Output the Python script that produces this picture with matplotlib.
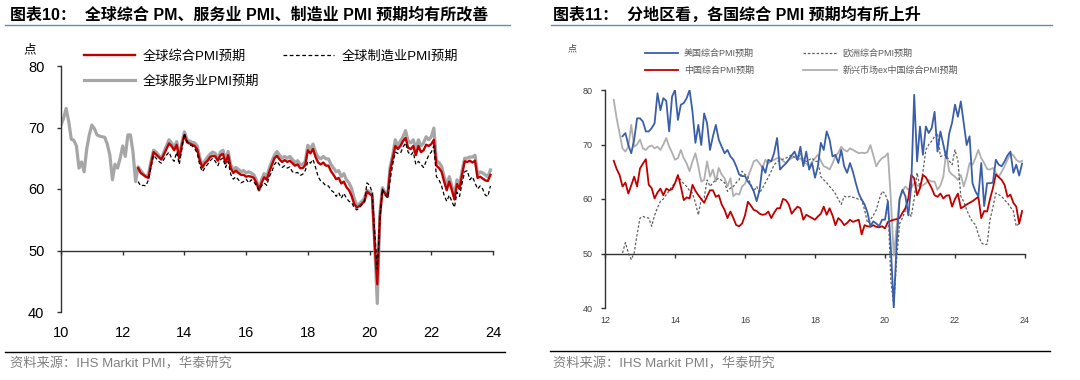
import matplotlib
matplotlib.use("Agg")
import matplotlib.pyplot as plt
import numpy as np

plt.rcParams['font.family'] = ['Liberation Sans', 'Noto Sans CJK SC']
MIX = ['Liberation Sans', 'Noto Sans CJK SC', 'DejaVu Sans']
CJK = ['Noto Sans CJK SC', 'DejaVu Sans']

# ---------------- left chart: global PMI expectations (monthly) ----------------
services_start = 2010.0          # Jan 2010
services = [
    70.4, 71.5, 73.1, 71.0, 68.1, 67.9, 67.0, 63.4, 64.4, 62.8, 66.5, 68.8,  # 2010
    70.4, 69.8, 68.8, 68.6, 68.5, 68.4, 67.3, 65.5, 61.5, 64.0, 63.4, 65.0,  # 2011
    67.0, 65.3, 68.8, 68.8, 66.0, 61.2, 63.6, 63.0, 62.5, 62.0, 62.4, 64.5,  # 2012
    66.3, 66.0, 65.5, 64.9, 66.0, 67.0, 68.0, 67.5, 66.8, 67.7, 65.2, 67.5,  # 2013
    69.3, 68.0, 67.8, 67.6, 67.5, 67.0, 65.0, 63.9, 64.6, 65.2, 65.7, 66.0,  # 2014
    65.8, 65.0, 66.0, 66.3, 64.7, 66.1, 63.9, 63.2, 63.5, 63.2, 62.8, 63.0,  # 2015
    62.6, 62.8, 62.6, 62.3, 61.5, 59.8, 61.5, 62.5, 62.0, 63.4, 64.5, 65.5,  # 2016
    66.1, 65.5, 65.0, 65.3, 65.0, 65.3, 64.8, 64.3, 64.6, 64.0, 64.0, 64.5,  # 2017
    67.1, 66.5, 67.3, 66.0, 65.2, 64.9, 65.3, 64.9, 64.9, 64.0, 63.4, 62.8,  # 2018
    63.0, 62.0, 62.5, 61.5, 61.0, 60.1, 58.5, 57.4, 57.6, 58.0, 58.5, 59.8,  # 2019
    59.5, 59.3, 51.0, 41.4, 56.0, 60.2, 59.5, 58.9, 63.6, 65.5, 68.0, 67.0,  # 2020
    67.8, 68.5, 69.5, 67.8, 67.5, 68.0, 66.5, 68.0, 67.0, 67.5, 68.5, 68.0,  # 2021
    68.5, 69.9, 64.6, 64.3, 63.7, 62.0, 60.5, 62.0, 60.5, 58.8, 61.5, 60.5,  # 2022
    63.0, 65.0, 65.0, 65.2, 65.2, 65.5, 62.3, 62.8, 62.6, 62.3, 62.0, 63.1,  # 2023
]

global_start = 2012.5            # Jul 2012
composite = [
    63.4, 62.6, 62.3, 62.0, 61.8, 64.0,                                      # 2012 H2
    66.0, 65.6, 65.2, 64.8, 65.6, 66.5, 67.4, 67.0, 66.3, 67.2, 65.0, 67.2,  # 2013
    68.8, 67.6, 67.4, 67.2, 67.0, 66.4, 64.6, 63.5, 64.2, 64.6, 65.2, 65.4,  # 2014
    65.3, 64.6, 65.5, 65.7, 64.2, 65.5, 63.4, 62.6, 63.0, 62.6, 62.3, 62.3,  # 2015
    62.0, 62.1, 62.0, 61.8, 61.0, 59.9, 61.0, 61.9, 61.5, 62.8, 63.9, 65.0,  # 2016
    65.4, 64.8, 64.4, 64.7, 64.4, 64.6, 64.2, 63.8, 64.0, 63.4, 63.4, 63.9,  # 2017
    66.3, 65.8, 66.5, 65.2, 64.3, 64.0, 64.3, 63.8, 63.8, 62.9, 62.3, 61.6,  # 2018
    61.8, 60.9, 61.2, 60.3, 59.8, 58.9, 57.6, 57.0, 57.2, 57.6, 58.0, 59.6,  # 2019
    59.2, 58.9, 51.0, 44.5, 55.5, 59.8, 59.3, 58.7, 63.0, 65.0, 67.0, 66.5,  # 2020
    67.0, 67.8, 68.3, 66.7, 66.5, 67.0, 65.5, 67.0, 66.0, 66.3, 67.2, 67.0,  # 2021
    67.3, 68.0, 63.8, 63.4, 62.8, 61.2, 59.8, 61.2, 59.8, 58.3, 60.8, 60.0,  # 2022
    62.4, 64.5, 64.4, 64.6, 64.3, 64.6, 61.8, 62.0, 61.7, 61.4, 61.3, 62.3,  # 2023
]
manufacturing = [
    61.2, 60.5, 60.6, 60.5, 61.5, 63.5,                                      # 2012 H2
    65.5, 65.0, 64.5, 64.2, 64.8, 65.5, 66.0, 65.0, 64.5, 66.0, 64.0, 66.5,  # 2013
    69.0, 67.8, 67.2, 67.0, 66.6, 65.8, 63.8, 62.8, 63.5, 64.0, 64.6, 65.0,  # 2014
    64.5, 63.8, 64.8, 65.0, 63.5, 64.5, 62.4, 61.6, 62.0, 61.5, 61.0, 61.2,  # 2015
    61.6, 61.0, 61.5, 61.2, 60.5, 59.8, 60.5, 61.0, 60.6, 62.0, 62.8, 64.0,  # 2016
    64.5, 63.9, 63.5, 63.8, 63.4, 63.6, 62.8, 62.6, 62.7, 62.2, 62.4, 63.0,  # 2017
    64.5, 64.2, 64.8, 63.5, 62.0, 61.3, 61.0, 60.5, 60.5, 59.8, 59.5, 58.8,  # 2018
    59.4, 58.5, 59.3, 58.5, 58.0, 57.8, 57.0, 56.6, 56.9, 57.4, 58.0, 61.0,  # 2019
    60.6, 59.5, 53.0, 47.0, 55.0, 60.0, 59.0, 58.6, 61.5, 64.0, 66.0, 65.8,  # 2020
    65.8, 66.8, 67.5, 66.0, 65.5, 66.0, 64.0, 64.5, 64.0, 63.5, 64.5, 65.5,  # 2021
    66.0, 67.0, 62.0, 61.5, 60.5, 59.0, 58.0, 59.0, 58.0, 57.0, 59.5, 58.8,  # 2022
    61.0, 62.8, 63.0, 61.5, 62.0, 61.0, 60.0, 60.5, 60.0, 59.0, 58.8, 60.5,  # 2023
]

# ---------------- right chart: composite PMI expectations by region ----------------
region_start_a = 2012.25         # Apr 2012
china = [
    67.0, 65.5, 64.4, 62.3, 63.0, 61.0, 62.5, 64.1, 62.3,                    # 2012
    65.6, 66.5, 67.3, 62.6, 62.0, 60.1, 61.2, 61.9, 60.7, 61.9, 61.6, 61.8,  # 2013
    62.9, 64.4, 62.3, 59.8, 60.3, 60.1, 62.6, 61.5, 60.7, 60.0, 59.3, 60.5,  # 2014
    61.6, 61.6, 60.4, 60.7, 59.0, 58.0, 56.5, 57.7, 56.5, 55.2, 55.0, 55.5,  # 2015
    57.0, 59.5, 58.8, 58.0, 57.8, 57.3, 57.1, 57.2, 57.7, 56.5, 57.5, 58.3,  # 2016
    58.3, 60.0, 59.8, 59.0, 57.3, 58.0, 58.6, 58.3, 56.2, 57.1, 56.8, 56.5,  # 2017
    56.2, 56.8, 57.3, 58.6, 57.1, 58.3, 57.0, 55.2, 56.5, 56.0, 55.2, 55.6,  # 2018
    56.2, 55.8, 56.0, 56.2, 53.5, 55.2, 55.0, 54.9, 55.2, 54.9, 54.8, 55.0,  # 2019
    54.6, 55.8, 56.0, 56.2, 56.3, 56.5, 57.5, 58.3, 60.1, 64.4, 63.8, 60.7,  # 2020
    62.0, 64.4, 64.0, 63.0, 62.0, 60.7, 60.4, 61.0, 60.1, 60.6, 60.7, 58.6,  # 2021
    60.0, 61.0, 58.3, 58.6, 59.0, 59.3, 59.6, 60.0, 60.4, 56.5, 57.8, 57.7,  # 2022
    60.0, 62.0, 64.5, 64.0, 63.5, 62.6, 60.4, 60.8, 59.3, 58.6, 55.5, 57.8,  # 2023
]
em_ex_china = [
    78.2, 74.8, 72.1, 69.3, 68.7, 69.6, 73.6, 69.6, 70.0,                    # 2012
    70.9, 69.3, 69.0, 69.6, 69.8, 69.3, 69.6, 69.0, 70.0, 71.2, 69.6, 68.5,  # 2013
    67.2, 67.5, 69.0, 67.5, 66.5, 65.1, 66.9, 68.4, 66.0, 63.2, 63.5, 66.9,  # 2014
    64.1, 65.4, 63.2, 65.7, 64.5, 63.8, 62.3, 63.8, 60.5, 61.0, 60.8, 62.3,  # 2015
    62.8, 64.1, 65.4, 66.9, 67.2, 66.5, 65.7, 67.2, 66.5, 67.0, 67.2, 67.5,  # 2016
    67.5, 67.0, 66.6, 67.2, 67.5, 67.8, 67.2, 67.5, 66.8, 66.5, 66.0, 66.8,  # 2017
    67.5, 68.1, 67.0, 66.0, 65.8, 65.4, 66.5, 67.8, 68.5, 69.6, 69.0, 68.7,  # 2018
    69.3, 69.0, 68.7, 68.4, 68.5, 68.4, 68.6, 69.9, 68.0, 66.0, 66.9, 67.5,  # 2019
    67.8, 68.4, 60.0, 49.6, 55.0, 60.0, 61.5, 62.3, 61.7, 62.0, 62.9, 62.5,  # 2020
    62.3, 62.5, 62.9, 63.5, 63.2, 63.2, 61.7, 62.5, 64.1, 68.7, 65.1, 64.5,  # 2021
    64.1, 63.5, 64.4, 62.3, 64.1, 66.6, 66.3, 67.5, 69.0, 67.5, 66.6, 65.5,  # 2022
    65.4, 65.7, 64.8, 64.1, 65.0, 66.0, 67.2, 68.4, 68.0, 67.2, 66.8, 67.0,  # 2023
]

region_start_b = 2012.5          # Jul 2012
usa = [
    71.5, 72.1, 69.9, 68.4, 70.9, 74.8,                                      # 2012 H2
    74.8, 74.2, 72.4, 72.4, 73.0, 73.9, 79.4, 76.3, 78.5, 78.0, 72.4, 78.8,  # 2013
    80.0, 74.5, 77.3, 77.6, 78.5, 80.0, 76.0, 70.3, 73.6, 69.9, 75.7, 73.9,  # 2014
    69.0, 71.5, 73.6, 70.9, 69.6, 68.4, 69.0, 67.8, 67.2, 66.0, 64.5, 64.2,  # 2015
    64.2, 63.2, 62.5, 61.4, 59.6, 61.7, 66.0, 64.8, 67.2, 66.9, 68.5, 71.2,  # 2016
    65.4, 66.0, 66.5, 67.2, 68.0, 68.7, 67.2, 69.6, 66.0, 68.7, 65.4, 66.6,  # 2017
    63.9, 66.0, 70.3, 69.0, 72.4, 70.9, 67.8, 68.1, 66.6, 69.0, 66.0, 64.8,  # 2018
    66.6, 65.0, 62.9, 61.0, 59.9, 59.0, 57.5, 55.0, 55.9, 55.5, 55.0, 56.2,  # 2019
    56.2, 59.6, 51.0, 40.0, 52.0, 60.0, 61.7, 60.5, 57.0, 62.5, 79.1, 66.9,  # 2020
    73.3, 68.1, 73.3, 72.1, 73.0, 76.0, 68.7, 72.4, 70.0, 67.5, 72.0, 74.0,  # 2021
    77.3, 75.1, 77.9, 73.9, 69.9, 71.5, 62.9, 61.4, 60.5, 66.6, 58.7, 62.9,  # 2022
    62.9, 63.0, 67.2, 66.3, 66.0, 66.9, 68.0, 68.7, 64.8, 66.3, 64.3, 66.5,  # 2023
]
europe = [
    50.1, 52.0, 50.1, 48.9, 50.1, 53.5,                                      # 2012 H2
    56.5, 56.8, 56.6, 56.5, 55.0, 57.0, 58.4, 59.6, 60.0, 60.8, 61.5, 62.3,  # 2013
    63.0, 64.1, 63.5, 62.8, 62.3, 61.5, 61.1, 59.3, 57.1, 60.0, 60.2, 63.5,  # 2014
    62.3, 63.0, 63.5, 63.8, 63.4, 63.0, 61.4, 62.0, 62.3, 63.0, 63.5, 65.1,  # 2015
    64.5, 64.1, 62.6, 61.4, 62.3, 61.1, 62.0, 63.0, 64.0, 65.1, 66.3, 66.8,  # 2016
    67.2, 67.3, 67.5, 67.8, 68.1, 67.6, 67.2, 68.4, 67.2, 66.9, 67.2, 67.5,  # 2017
    66.9, 66.9, 64.1, 63.5, 63.0, 62.3, 61.7, 61.0, 59.9, 59.0, 60.5, 60.3,  # 2018
    60.5, 60.3, 60.2, 59.9, 59.9, 58.0, 55.6, 56.2, 57.0, 58.0, 59.9, 61.4,  # 2019
    61.0, 59.5, 45.0, 40.5, 49.0, 55.5, 56.5, 58.0, 57.5, 56.8, 60.0, 64.8,  # 2020
    62.0, 65.0, 69.0, 70.0, 70.6, 71.5, 72.1, 67.8, 68.0, 68.1, 67.0, 66.3,  # 2021
    69.0, 67.0, 60.5, 59.5, 58.0, 56.8, 55.8, 55.3, 53.5, 52.0, 51.6, 51.7,  # 2022
    56.2, 58.5, 61.1, 60.8, 60.5, 59.8, 59.3, 58.5, 57.8, 55.0, 55.5, 57.5,  # 2023
]

year_ticks = [2010, 2012, 2014, 2016, 2018, 2020, 2022, 2024]
y_ticks = [40, 50, 60, 70, 80]


def months(start, values):
    return start + np.arange(len(values)) / 12.0


def style_axes(ax, xticks, fs, color, xpad, ypad):
    ax.set_ylim(40, 80)
    ax.set_yticks(y_ticks)
    for s in ['top', 'right', 'bottom']:
        ax.spines[s].set_visible(False)
    ax.spines['left'].set_linewidth(1.0)
    ax.spines['left'].set_color('#333333')
    ax.set_xticks(xticks)
    ax.set_xticklabels([f"{t % 100:02d}" for t in xticks])
    ax.tick_params(axis='x', length=0, pad=xpad, labelsize=fs, labelcolor=color)
    ax.tick_params(axis='y', length=3, width=1, direction='out', pad=ypad,
                   labelsize=fs, labelcolor=color, color='#333333')
    # horizontal axis drawn at the 50 line
    sec = ax.secondary_xaxis((50 - 40) / (80 - 40))
    sec.set_xticks(xticks)
    sec.tick_params(axis='x', length=3, width=1, direction='out',
                    labelbottom=False, labeltop=False, color='#333333')
    for s in sec.spines.values():
        s.set_color('#333333')
        s.set_linewidth(1.0)


fig = plt.figure(figsize=(10.8, 3.8), dpi=100)
W, H = 1080, 380

# ---- left panel ----
ax1 = fig.add_axes([61 / W, 1 - 312 / H, 432 / W, 246 / H])
ax1.set_xlim(2010, 2024)
l_serv, = ax1.plot(months(services_start, services), services, color='#A6A6A6', lw=2.3,
                   label='全球服务业PMI预期')
l_comp, = ax1.plot(months(global_start, composite), composite, color='#C00000', lw=1.7,
                   label='全球综合PMI预期')
l_manu, = ax1.plot(months(global_start, manufacturing), manufacturing, color='black', lw=0.9,
                   dashes=(3, 2), label='全球制造业PMI预期')
style_axes(ax1, year_ticks, 10.5, 'black', 10, 9)
ax1.legend(handles=[l_comp, l_serv, l_manu], ncol=2, frameon=False,
           loc='upper left', bbox_to_anchor=(84 / W, 1 - 50 / H),
           bbox_transform=fig.transFigure, prop={'family': MIX, 'size': 9.5},
           handlelength=3.9, handletextpad=0.55, columnspacing=1.8,
           labelspacing=0.95, borderpad=0, borderaxespad=0)

# ---- right panel ----
ax2 = fig.add_axes([605 / W, 1 - 308 / H, 420 / W, 218 / H])
ax2.set_xlim(2012, 2024)
r_em, = ax2.plot(months(region_start_a, em_ex_china), em_ex_china, color='#AFAFAF', lw=1.3,
                 label='新兴市场ex中国综合PMI预期')
r_eu, = ax2.plot(months(region_start_b, europe), europe, color='#606060', lw=0.9,
                 dashes=(2, 1.5), label='欧洲综合PMI预期')
r_cn, = ax2.plot(months(region_start_a, china), china, color='#C00000', lw=1.3,
                 label='中国综合PMI预期')
r_us, = ax2.plot(months(region_start_b, usa), usa, color='#3A5FA8', lw=1.3,
                 label='美国综合PMI预期')
style_axes(ax2, year_ticks[1:], 6.5, '#404040', 6, 6)
ax2.legend(handles=[r_us, r_cn, r_eu, r_em], ncol=2, frameon=False,
           loc='upper left', bbox_to_anchor=(645 / W, 1 - 49 / H),
           bbox_transform=fig.transFigure, prop={'family': MIX, 'size': 6.5},
           labelcolor='#595959', handlelength=3.7, handletextpad=0.6,
           columnspacing=5.5, labelspacing=0.9, borderpad=0, borderaxespad=0)

# ---- titles, units, rules and sources ----
fig.text(10 / W, 1 - 15 / H, '图表10：  全球综合 PM、服务业 PMI、制造业 PMI 预期均有所改善',
         family=MIX, fontsize=11.5, fontweight='bold', va='center', ha='left')
fig.text(553 / W, 1 - 15 / H, '图表11：  分地区看，各国综合 PMI 预期均有所上升',
         family=MIX, fontsize=11.5, fontweight='bold', va='center', ha='left')
fig.add_artist(plt.Line2D([5 / W, 510 / W], [1 - 25 / H] * 2, color='#6A88B8', lw=1))
fig.add_artist(plt.Line2D([551 / W, 1052 / W], [1 - 25 / H] * 2, color='#6A88B8', lw=1))

fig.text(30 / W, 1 - 50 / H, '点', family=CJK, fontsize=9, va='center', ha='center')
fig.text(572 / W, 1 - 49 / H, '点', family=CJK, fontsize=6.5, color='#404040',
         va='center', ha='center')

fig.add_artist(plt.Line2D([5 / W, 505 / W], [1 - 352 / H] * 2, color='black', lw=1))
fig.add_artist(plt.Line2D([550 / W, 1050 / W], [1 - 351 / H] * 2, color='black', lw=1))
fig.text(10 / W, 1 - 364 / H, '资料来源：IHS Markit PMI，华泰研究', family=MIX,
         fontsize=9.5, color='#808080', va='center', ha='left')
fig.text(553 / W, 1 - 364 / H, '资料来源：IHS Markit PMI，华泰研究', family=MIX,
         fontsize=9.5, color='#808080', va='center', ha='left')

fig.savefig('out.png', dpi=100)
